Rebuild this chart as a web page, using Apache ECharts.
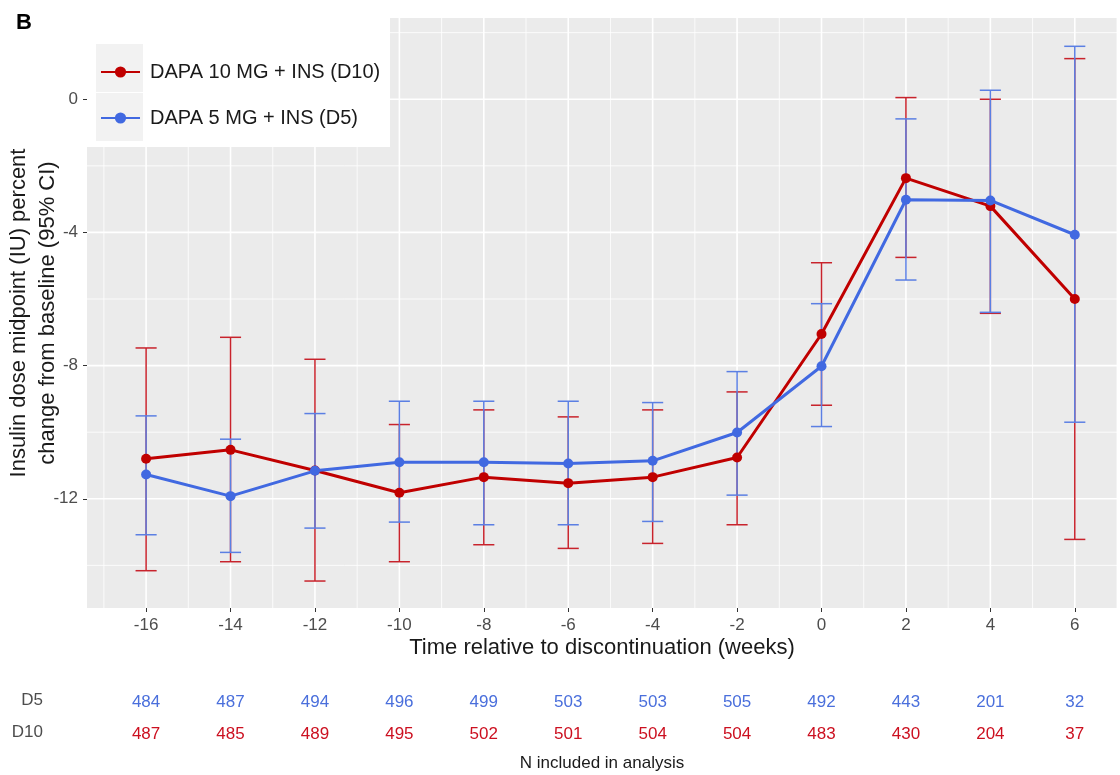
<!DOCTYPE html>
<html>
<head>
<meta charset="utf-8">
<script src="https://cdn.jsdelivr.net/npm/echarts@6/dist/echarts.min.js"></script>
<style>
  html, body { margin: 0; padding: 0; background: #fff; }
  #chart { width: 1120px; height: 775px; }
</style>
</head>
<body>
<div id="chart"></div>
<script>
// weeks relative to discontinuation
const weeks = [-16, -14, -12, -10, -8, -6, -4, -2, 0, 2, 4, 6];

// DAPA 10 MG + INS (D10)
const d10Mean = [-10.8, -10.53, -11.15, -11.82, -11.35, -11.53, -11.35, -10.76, -7.05, -2.37, -3.21, -6.0];
const d10Lower = [-14.16, -13.89, -14.47, -13.89, -13.38, -13.49, -13.34, -12.78, -9.19, -4.75, -6.43, -13.22];
const d10Upper = [-7.47, -7.15, -7.81, -9.77, -9.33, -9.54, -9.33, -8.79, -4.91, 0.05, 0.0, 1.22];

// DAPA 5 MG + INS (D5)
const d5Mean = [-11.27, -11.92, -11.16, -10.9, -10.9, -10.94, -10.86, -10.01, -8.02, -3.02, -3.04, -4.07];
const d5Lower = [-13.08, -13.61, -12.88, -12.7, -12.78, -12.78, -12.68, -11.89, -9.83, -5.43, -6.4, -9.7];
const d5Upper = [-9.51, -10.21, -9.44, -9.07, -9.07, -9.07, -9.11, -8.18, -6.14, -0.59, 0.27, 1.59];

// N included in analysis
const d5N = [484, 487, 494, 496, 499, 503, 503, 505, 492, 443, 201, 32];
const d10N = [487, 485, 489, 495, 502, 501, 504, 504, 483, 430, 204, 37];

const yTicks = [0, -4, -8, -12];

const FONT = '"Liberation Sans", Arial, sans-serif';
const RED = '#C00000';
const RED_BAR = '#C8232C';
const BLUE = '#4169E1';
const BLUE_BAR = '#5B7FE3';
const X_MIN = -17.4, X_MAX = 7.0;
const Y_MIN = -15.28, Y_MAX = 2.44;

const name10 = 'DAPA 10 MG + INS (D10)';
const name5 = 'DAPA 5 MG + INS (D5)';

// ggplot style grid lines (major every 2 wk / 4 units, minor in between)
const gridX = [];
for (let v = -17; v <= 7; v++) gridX.push([v, v % 2 === 0 ? 1 : 0]);
const gridY = [];
for (let v = -14; v <= 2; v += 2) gridY.push([v, v % 4 === 0 ? 1 : 0]);

function gridLineItem(vertical) {
    return function(params, api) {
        const v = api.value(0);
        const p1 = vertical ? api.coord([v, Y_MIN]) : api.coord([X_MIN, v]);
        const p2 = vertical ? api.coord([v, Y_MAX]) : api.coord([X_MAX, v]);
        return {
            type: 'line',
            shape: {x1: p1[0], y1: p1[1], x2: p2[0], y2: p2[1]},
            style: {stroke: '#fff', lineWidth: api.value(1) ? 1.6 : 0.8},
        };
    };
}

function errorBarItem(color) {
    return function(params, api) {
        const x = api.value(0);
        const lo = api.coord([x, api.value(1)]);
        const hi = api.coord([x, api.value(2)]);
        const half = api.size([0.25, 0])[0];
        const style = {stroke: color, lineWidth: 1.5, fill: null};
        return {
            type: 'group',
            children: [
                {type: 'line', shape: {x1: lo[0], y1: lo[1], x2: hi[0], y2: hi[1]}, style},
                {type: 'line', shape: {x1: lo[0] - half, y1: lo[1], x2: lo[0] + half, y2: lo[1]}, style},
                {type: 'line', shape: {x1: hi[0] - half, y1: hi[1], x2: hi[0] + half, y2: hi[1]}, style},
            ],
        };
    };
}

function tableAxis(counts, color, offset, extra) {
    return Object.assign({
        type: 'value',
        gridIndex: 0,
        position: 'bottom',
        offset: offset,
        min: X_MIN,
        max: X_MAX,
        axisLine: {show: false, onZero: false},
        axisTick: {show: false},
        splitLine: {show: false},
        axisLabel: {
            customValues: weeks,
            color: color,
            fontFamily: FONT,
            fontSize: 17,
            margin: 9,
            formatter: (v) => String(counts[weeks.indexOf(v)]),
        },
    }, extra || {});
}

const chart = echarts.init(document.getElementById('chart'));

chart.setOption({
    animation: false,
    backgroundColor: '#fff',
    textStyle: {fontFamily: FONT},
    grid: {
        left: 87, right: 3, top: 18, bottom: 167,
        containLabel: false,
        outerBoundsMode: 'none',
        show: true, backgroundColor: '#EBEBEB', borderWidth: 0,
    },
    legend: {
        z: 20,
        orient: 'vertical',
        left: 100,
        top: 60,
        padding: 0,
        itemWidth: 39,
        itemHeight: 14,
        itemGap: 22,
        data: [name10, name5],
        textStyle: {
            fontFamily: FONT, fontSize: 20, color: '#1A1A1A',
            lineHeight: 24, padding: [0, 0, 0, 5],
        },
    },
    graphic: [
        {type: 'text', x: 16, y: 23, z: 10,
            style: {text: 'B', font: 'bold 22px ' + FONT, fill: '#000', verticalAlign: 'middle'}},
        {type: 'rect', z: 10, shape: {x: 87, y: 18, width: 303, height: 129}, style: {fill: '#fff'}},
        {type: 'rect', z: 11, shape: {x: 96, y: 44, width: 47, height: 48}, style: {fill: '#F2F2F2'}},
        {type: 'rect', z: 11, shape: {x: 96, y: 93, width: 47, height: 48}, style: {fill: '#F2F2F2'}},
        {type: 'text', x: 43, y: 700, z: 10,
            style: {text: 'D5', font: '17px ' + FONT, fill: '#4D4D4D', align: 'right', verticalAlign: 'middle'}},
        {type: 'text', x: 43, y: 732, z: 10,
            style: {text: 'D10', font: '17px ' + FONT, fill: '#4D4D4D', align: 'right', verticalAlign: 'middle'}},
    ],
    xAxis: [
        {
            type: 'value',
            min: X_MIN,
            max: X_MAX,
            name: 'Time relative to discontinuation (weeks)',
            nameLocation: 'middle',
            nameGap: 29,
            nameMoveOverlap: false,
            nameTextStyle: {fontFamily: FONT, fontSize: 22, color: '#1A1A1A'},
            axisLine: {show: false, onZero: false},
            axisTick: {show: true, customValues: weeks, length: 4, lineStyle: {color: '#333', width: 1}},
            axisLabel: {customValues: weeks, color: '#4D4D4D', fontFamily: FONT, fontSize: 17, margin: 9},
            splitLine: {show: false},
        },
        tableAxis(d5N, '#4A6FDC', 77),
        tableAxis(d10N, '#CC1020', 109, {
            name: 'N included in analysis',
            nameLocation: 'middle',
            nameGap: 38,
            nameMoveOverlap: false,
            nameTextStyle: {fontFamily: FONT, fontSize: 17, color: '#1A1A1A'},
        }),
    ],
    yAxis: {
        type: 'value',
        min: Y_MIN,
        max: Y_MAX,
        name: 'Insulin dose midpoint (IU) percent\nchange from baseline (95% CI)',
        nameLocation: 'middle',
        nameGap: 25,
        nameMoveOverlap: false,
        nameTextStyle: {fontFamily: FONT, fontSize: 22, color: '#1A1A1A', lineHeight: 29},
        axisLine: {show: false, onZero: false},
        axisTick: {show: true, customValues: yTicks, length: 4, lineStyle: {color: '#333', width: 1}},
        axisLabel: {customValues: yTicks, color: '#4D4D4D', fontFamily: FONT, fontSize: 17, margin: 9},
        splitLine: {show: false},
    },
    series: [
        {
            type: 'custom', name: 'vgrid', silent: true, z: 1,
            data: gridX, encode: {x: 0}, renderItem: gridLineItem(true),
        },
        {
            type: 'custom', name: 'hgrid', silent: true, z: 1,
            data: gridY, encode: {y: 0}, renderItem: gridLineItem(false),
        },
        {
            type: 'custom', name: 'd10bars', silent: true, z: 2,
            data: weeks.map((w, i) => [w, d10Lower[i], d10Upper[i]]),
            encode: {x: 0, y: [1, 2]},
            renderItem: errorBarItem(RED_BAR),
        },
        {
            type: 'custom', name: 'd5bars', silent: true, z: 2,
            data: weeks.map((w, i) => [w, d5Lower[i], d5Upper[i]]),
            encode: {x: 0, y: [1, 2]},
            renderItem: errorBarItem(BLUE_BAR),
        },
        {
            type: 'line', name: name10, z: 3,
            data: weeks.map((w, i) => [w, d10Mean[i]]),
            symbol: 'circle', symbolSize: 10,
            lineStyle: {color: RED, width: 3},
            itemStyle: {color: RED},
        },
        {
            type: 'line', name: name5, z: 4,
            data: weeks.map((w, i) => [w, d5Mean[i]]),
            symbol: 'circle', symbolSize: 10,
            lineStyle: {color: BLUE, width: 3},
            itemStyle: {color: BLUE},
        },
    ],
});
</script>
</body>
</html>
